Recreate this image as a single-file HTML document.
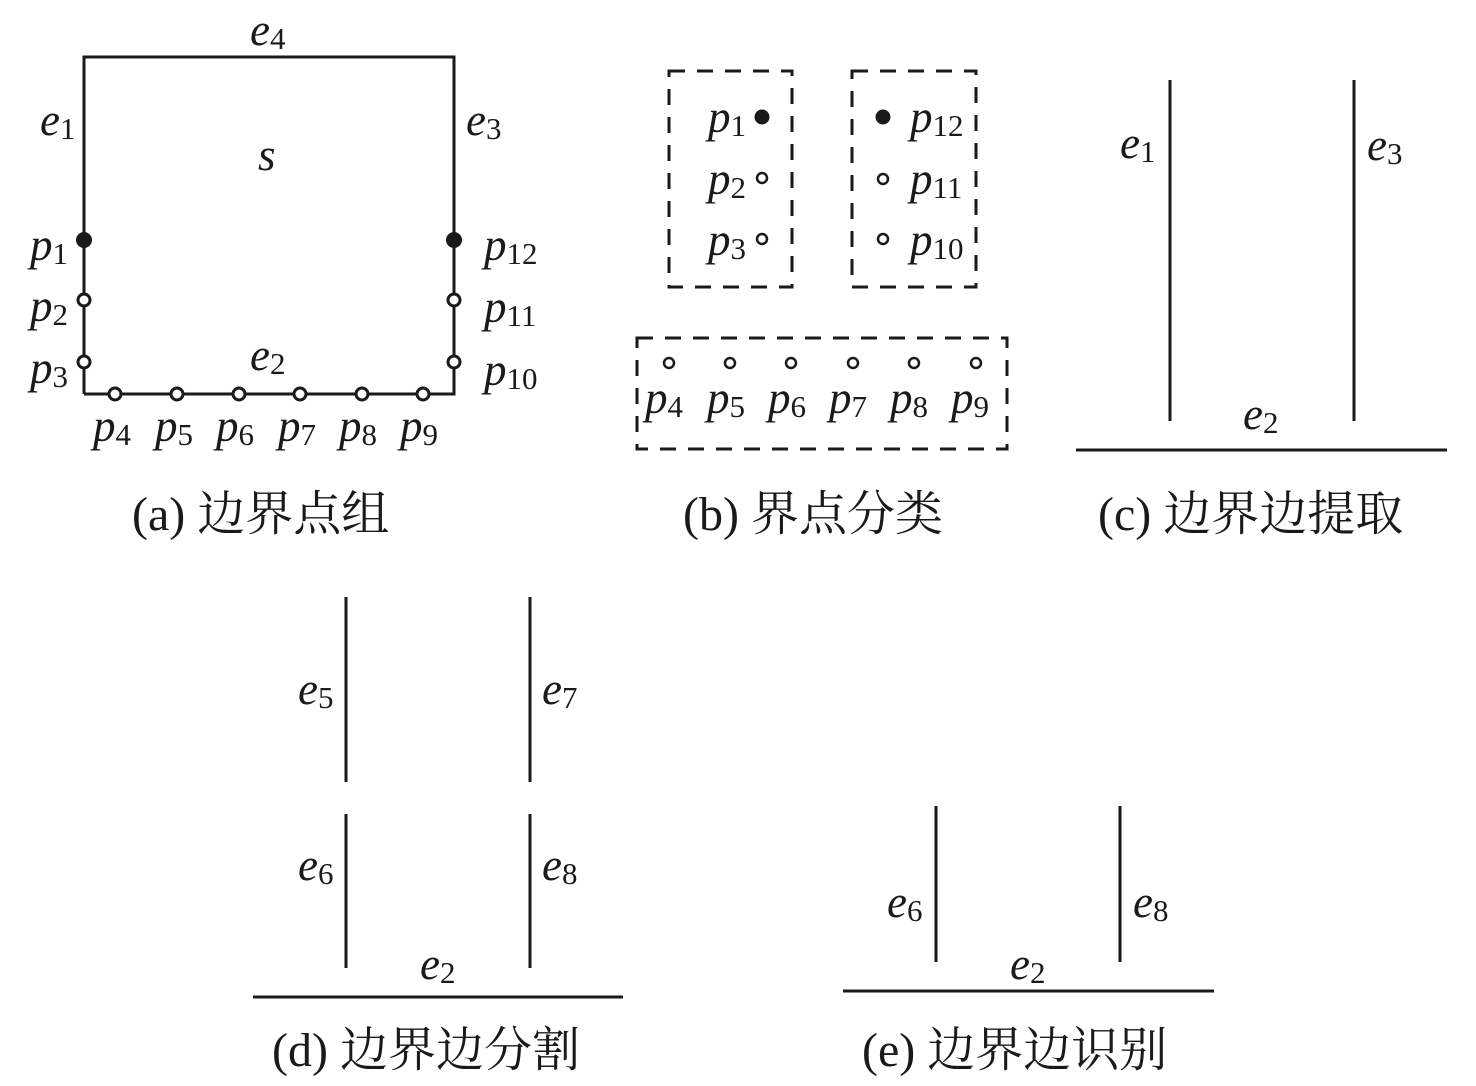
<!DOCTYPE html>
<html><head><meta charset="utf-8"><style>
html,body{margin:0;padding:0;background:#fff;}
svg{display:block}
.m{font-family:"Liberation Serif",serif;font-style:italic;font-size:45px;fill:#1a1a1a}
.m tspan.s{font-style:normal;font-size:31px}
.c{font-family:"Liberation Serif","Noto Serif CJK SC",serif;font-size:48px;fill:#1a1a1a}
</style></head><body>
<svg width="1476" height="1086" viewBox="0 0 1476 1086" xmlns="http://www.w3.org/2000/svg">
<g stroke="#1a1a1a" stroke-width="3" fill="none">
<polyline points="84,394 84,57 454,57 454,394 84,394"/>
</g>
<g stroke="#1a1a1a" stroke-width="3" fill="#fff">
<circle cx="84" cy="300" r="6"/><circle cx="84" cy="362" r="6"/>
<circle cx="454" cy="300" r="6"/><circle cx="454" cy="362" r="6"/>
<circle cx="115" cy="394" r="6"/><circle cx="177" cy="394" r="6"/><circle cx="239" cy="394" r="6"/>
<circle cx="300" cy="394" r="6"/><circle cx="362" cy="394" r="6"/><circle cx="423" cy="394" r="6"/>
<circle cx="762" cy="178" r="5" stroke-width="2.5"/><circle cx="762" cy="239" r="5" stroke-width="2.5"/>
<circle cx="883" cy="179" r="5" stroke-width="2.5"/><circle cx="883" cy="239" r="5" stroke-width="2.5"/>
<circle cx="669" cy="363" r="5" stroke-width="2.5"/><circle cx="730" cy="363" r="5" stroke-width="2.5"/>
<circle cx="791" cy="363" r="5" stroke-width="2.5"/><circle cx="853" cy="363" r="5" stroke-width="2.5"/>
<circle cx="914" cy="363" r="5" stroke-width="2.5"/><circle cx="976" cy="363" r="5" stroke-width="2.5"/>
</g>
<g fill="#1a1a1a">
<circle cx="84" cy="240" r="8"/><circle cx="454" cy="240" r="8"/>
<circle cx="762" cy="117" r="7.5"/><circle cx="883" cy="117" r="7.5"/>
</g>
<g stroke="#1a1a1a" stroke-width="3" fill="none" stroke-dasharray="16,12">
<rect x="669" y="71" width="123" height="216"/>
<rect x="852" y="71" width="124" height="216"/>
<rect x="637" y="338" width="370" height="111"/>
</g>
<g stroke="#1a1a1a" stroke-width="3">
<line x1="1170" y1="80" x2="1170" y2="421"/><line x1="1354" y1="80" x2="1354" y2="421"/>
<line x1="1076" y1="450" x2="1447" y2="450"/>
<line x1="346" y1="597" x2="346" y2="782"/><line x1="346" y1="814" x2="346" y2="968"/>
<line x1="530" y1="597" x2="530" y2="782"/><line x1="530" y1="814" x2="530" y2="968"/>
<line x1="253" y1="997" x2="623" y2="997"/>
<line x1="936" y1="806" x2="936" y2="962"/><line x1="1120" y1="806" x2="1120" y2="962"/>
<line x1="843" y1="991" x2="1214" y2="991"/>
</g>
<g class="m">
<text x="250" y="45">e<tspan class="s" dy="4">4</tspan></text>
<text x="40" y="135">e<tspan class="s" dy="4">1</tspan></text>
<text x="466" y="135">e<tspan class="s" dy="4">3</tspan></text>
<text x="258" y="170">s</text>
<text x="30" y="260">p<tspan class="s" dy="4">1</tspan></text>
<text x="30" y="321">p<tspan class="s" dy="4">2</tspan></text>
<text x="30" y="383">p<tspan class="s" dy="4">3</tspan></text>
<text x="484" y="260">p<tspan class="s" dy="4">12</tspan></text>
<text x="484" y="322">p<tspan class="s" dy="4">11</tspan></text>
<text x="484" y="385">p<tspan class="s" dy="4">10</tspan></text>
<text x="250" y="370">e<tspan class="s" dy="4">2</tspan></text>
<text x="93" y="441">p<tspan class="s" dy="4">4</tspan></text>
<text x="155" y="441">p<tspan class="s" dy="4">5</tspan></text>
<text x="216" y="441">p<tspan class="s" dy="4">6</tspan></text>
<text x="278" y="441">p<tspan class="s" dy="4">7</tspan></text>
<text x="339" y="441">p<tspan class="s" dy="4">8</tspan></text>
<text x="400" y="441">p<tspan class="s" dy="4">9</tspan></text>
<text x="708" y="132">p<tspan class="s" dy="4">1</tspan></text>
<text x="708" y="194">p<tspan class="s" dy="4">2</tspan></text>
<text x="708" y="255">p<tspan class="s" dy="4">3</tspan></text>
<text x="910" y="132">p<tspan class="s" dy="4">12</tspan></text>
<text x="910" y="194">p<tspan class="s" dy="4">11</tspan></text>
<text x="910" y="255">p<tspan class="s" dy="4">10</tspan></text>
<text x="645" y="413">p<tspan class="s" dy="4">4</tspan></text>
<text x="707" y="413">p<tspan class="s" dy="4">5</tspan></text>
<text x="768" y="413">p<tspan class="s" dy="4">6</tspan></text>
<text x="829" y="413">p<tspan class="s" dy="4">7</tspan></text>
<text x="890" y="413">p<tspan class="s" dy="4">8</tspan></text>
<text x="951" y="413">p<tspan class="s" dy="4">9</tspan></text>
<text x="1120" y="158">e<tspan class="s" dy="4">1</tspan></text>
<text x="1367" y="160">e<tspan class="s" dy="4">3</tspan></text>
<text x="1243" y="429">e<tspan class="s" dy="4">2</tspan></text>
<text x="298" y="704">e<tspan class="s" dy="4">5</tspan></text>
<text x="542" y="704">e<tspan class="s" dy="4">7</tspan></text>
<text x="298" y="880">e<tspan class="s" dy="4">6</tspan></text>
<text x="542" y="880">e<tspan class="s" dy="4">8</tspan></text>
<text x="420" y="979">e<tspan class="s" dy="4">2</tspan></text>
<text x="887" y="917">e<tspan class="s" dy="4">6</tspan></text>
<text x="1133" y="917">e<tspan class="s" dy="4">8</tspan></text>
<text x="1010" y="979">e<tspan class="s" dy="4">2</tspan></text>
</g>
<g class="c">
<text x="132" y="530">(a) 边界点组</text>
<text x="683" y="530">(b) 界点分类</text>
<text x="1098" y="530">(c) 边界边提取</text>
<text x="272" y="1066">(d) 边界边分割</text>
<text x="862" y="1066">(e) 边界边识别</text>
</g>
</svg>
</body></html>
